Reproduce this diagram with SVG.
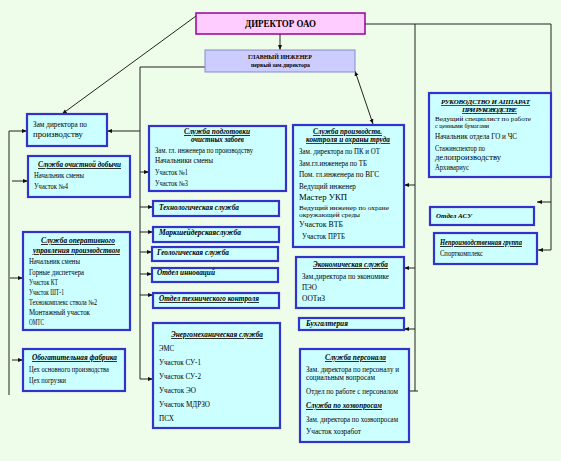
<svg xmlns="http://www.w3.org/2000/svg" width="561" height="461" viewBox="0 0 561 461">
<defs>
<marker id="a" viewBox="0 0 10 10" refX="10" refY="5" markerWidth="5" markerHeight="5" orient="auto-start-reverse" markerUnits="userSpaceOnUse"><path d="M0,1 L10,5 L0,9 z" fill="#111"/></marker>
<style>
text{font-family:"Liberation Serif","Times New Roman",serif;fill:#000}
.b{fill:#CCFFFF;stroke:#3333CC;stroke-width:2.2}
.it{font-size:7.5px}
.t{font-size:8px;font-weight:bold;font-style:italic;text-decoration:underline}
.s{font-size:8px;font-weight:bold;font-style:italic}
.c{text-anchor:middle}
.ln{fill:none;stroke:#222;stroke-width:1}
.ar{fill:none;stroke:#222;stroke-width:1;marker-end:url(#a)}
</style>
</defs>
<rect x="0" y="0" width="561" height="461" fill="#EEFDEA"/>

<g id="connectors">
<line class="ar" x1="280" y1="34" x2="280" y2="50"/>
<line class="ar" x1="196" y1="16" x2="62" y2="114"/>
<polyline class="ar" points="365,24 551,24 551,250 538,250"/>
<line class="ar" x1="551" y1="136" x2="542" y2="136"/>
<line class="ar" x1="551" y1="202" x2="537" y2="202"/>
<line class="ln" x1="415" y1="24" x2="415" y2="391"/>
<line class="ar" x1="415" y1="185" x2="404" y2="185"/>
<line class="ar" x1="415" y1="268" x2="404" y2="268"/>
<line class="ar" x1="415" y1="329" x2="404" y2="329"/>
<line class="ar" x1="418" y1="391" x2="405" y2="391"/>
<polyline class="ar" points="205,67 140,67 140,379 153,379"/>
<line class="ar" x1="140" y1="131" x2="107" y2="131"/>
<line class="ar" x1="140" y1="172" x2="149" y2="172"/>
<line class="ar" x1="140" y1="207" x2="153" y2="207"/>
<line class="ar" x1="140" y1="232" x2="153" y2="232"/>
<line class="ar" x1="140" y1="252" x2="152" y2="252"/>
<line class="ar" x1="140" y1="274" x2="152" y2="274"/>
<line class="ar" x1="140" y1="295" x2="153" y2="295"/>
<line class="ar" x1="355" y1="71" x2="373" y2="124" style="marker-start:url(#a)"/>
<line class="ln" x1="9" y1="131" x2="9" y2="395"/>
<line class="ar" x1="9" y1="131" x2="27" y2="131"/>
<line class="ar" x1="12" y1="181" x2="28" y2="181"/>
<line class="ar" x1="10" y1="278" x2="23" y2="278"/>
<line class="ar" x1="12" y1="360" x2="23" y2="360"/>
</g>

<g id="director">
<rect x="196" y="13" width="169" height="21" fill="#FFCCFF" stroke="#990099" stroke-width="1.5"/>
<text x="245" y="27" style="font-size:10px;font-weight:bold" textLength="71" lengthAdjust="spacingAndGlyphs">ДИРЕКТОР  ОАО</text>
</g>

<g id="chief">
<rect x="205" y="50" width="150" height="22" fill="#CCCCFF" stroke="#8888CC" stroke-width="1"/>
<text x="248" y="59" style="font-size:6.5px;font-weight:bold" textLength="64" lengthAdjust="spacingAndGlyphs">ГЛАВНЫЙ ИНЖЕНЕР</text>
<text x="251" y="67" style="font-size:6px;font-weight:bold" textLength="59" lengthAdjust="spacingAndGlyphs">первый зам.директора</text>
</g>

<g id="zam">
<rect class="b" x="27" y="114" width="80" height="32"/>
<text class="it" x="33" y="127" textLength="54" lengthAdjust="spacingAndGlyphs">Зам директора по</text>
<text class="it" x="33" y="137" textLength="50" lengthAdjust="spacingAndGlyphs">производству</text>
</g>

<g id="ochist">
<rect class="b" x="28" y="156" width="102" height="41"/>
<text class="t" x="38" y="167" textLength="83" lengthAdjust="spacingAndGlyphs">Служба очистной добычи</text>
<text class="it" x="34" y="178" textLength="50" lengthAdjust="spacingAndGlyphs">Начальник  смены</text>
<text class="it" x="34" y="189" textLength="34" lengthAdjust="spacingAndGlyphs">Участок №4</text>
</g>

<g id="operat">
<rect class="b" x="23" y="232" width="107" height="98"/>
<text class="t" x="41" y="243" textLength="74" lengthAdjust="spacingAndGlyphs">Служба оперативного</text>
<text class="t" x="33" y="253" textLength="87" lengthAdjust="spacingAndGlyphs">управления производством</text>
<text class="it" x="29" y="264" textLength="51" lengthAdjust="spacingAndGlyphs">Начальник  смены</text>
<text class="it" x="29" y="275" textLength="55" lengthAdjust="spacingAndGlyphs">Горные диспетчера</text>
<text class="it" x="29" y="285" textLength="29" lengthAdjust="spacingAndGlyphs">Участок КТ</text>
<text class="it" x="29" y="295" textLength="35" lengthAdjust="spacingAndGlyphs">Участок ШТ-1</text>
<text class="it" x="29" y="305" textLength="68" lengthAdjust="spacingAndGlyphs">Технокомплекс ствола №2</text>
<text class="it" x="29" y="315" textLength="61" lengthAdjust="spacingAndGlyphs">Монтажный участок</text>
<text class="it" x="29" y="325" textLength="15" lengthAdjust="spacingAndGlyphs">ОМТС</text>
</g>

<g id="obogat">
<rect class="b" x="23" y="349" width="102" height="42"/>
<text class="t" x="32" y="360" textLength="85" lengthAdjust="spacingAndGlyphs">Обогатительная фабрика</text>
<text class="it" x="29" y="372" textLength="80" lengthAdjust="spacingAndGlyphs">Цех основного производства</text>
<text class="it" x="29" y="383" textLength="37" lengthAdjust="spacingAndGlyphs">Цех погрузки</text>
</g>

<g id="podgot">
<rect class="b" x="149" y="126" width="137" height="65"/>
<text class="t" x="184" y="134" textLength="66" lengthAdjust="spacingAndGlyphs">Служба подготовки</text>
<text class="s" x="191" y="142" textLength="53" lengthAdjust="spacingAndGlyphs">очистных забоев</text>
<text class="it" x="155" y="153" textLength="98" lengthAdjust="spacingAndGlyphs">Зам. гл. инженера по производству</text>
<text class="it" x="155" y="163" textLength="58" lengthAdjust="spacingAndGlyphs">Начальники смены</text>
<text class="it" x="155" y="175" textLength="33" lengthAdjust="spacingAndGlyphs">Участок №1</text>
<text class="it" x="155" y="186" textLength="33" lengthAdjust="spacingAndGlyphs">Участок №3</text>
</g>

<g id="tehnol">
<rect class="b" x="153" y="201" width="126" height="15"/>
<text class="s" x="159" y="210" textLength="80" lengthAdjust="spacingAndGlyphs">Технологическая служба</text>
</g>
<g id="marksh">
<rect class="b" x="153" y="227" width="126" height="15"/>
<text class="s" x="159" y="235" textLength="82" lengthAdjust="spacingAndGlyphs">Маркшейдерскаяслужба</text>
</g>
<g id="geol">
<rect class="b" x="152" y="247" width="126" height="14"/>
<text class="s" x="157" y="255" textLength="72" lengthAdjust="spacingAndGlyphs">Геологическая служба</text>
</g>
<g id="innov">
<rect class="b" x="152" y="268" width="126" height="14"/>
<text class="s" x="157" y="275" textLength="58" lengthAdjust="spacingAndGlyphs">Отдел инноваций</text>
</g>
<g id="otk">
<rect class="b" x="153" y="293" width="126" height="15"/>
<text class="t" x="159" y="301" textLength="100" lengthAdjust="spacingAndGlyphs">Отдел технического контроля</text>
</g>

<g id="energo">
<rect class="b" x="153" y="323" width="127" height="105"/>
<text class="t" x="171" y="337" textLength="92" lengthAdjust="spacingAndGlyphs">Энергомеханическая служба</text>
<text class="it" x="159" y="351" textLength="15" lengthAdjust="spacingAndGlyphs">ЭМС</text>
<text class="it" x="159" y="365" textLength="42" lengthAdjust="spacingAndGlyphs">Участок СУ-1</text>
<text class="it" x="159" y="379" textLength="42" lengthAdjust="spacingAndGlyphs">Участок СУ-2</text>
<text class="it" x="159" y="393" textLength="37" lengthAdjust="spacingAndGlyphs">Участок ЭО</text>
<text class="it" x="159" y="407" textLength="51" lengthAdjust="spacingAndGlyphs">Участок МДРЗО</text>
<text class="it" x="159" y="421" textLength="15" lengthAdjust="spacingAndGlyphs">ПСХ</text>
</g>

<g id="prkontrol">
<rect class="b" x="293" y="125" width="111" height="122"/>
<text class="t" x="313" y="134" style="font-size:7.5px" textLength="69" lengthAdjust="spacingAndGlyphs">Служба производств.</text>
<text class="t" x="306" y="142" style="font-size:7.5px" textLength="84" lengthAdjust="spacingAndGlyphs">контроля и охраны труда</text>
<text class="it" x="299" y="154" textLength="81" lengthAdjust="spacingAndGlyphs">Зам. директора  по ПК и ОТ</text>
<text class="it" x="299" y="166" textLength="68" lengthAdjust="spacingAndGlyphs">Зам.гл.инженера по ТБ</text>
<text class="it" x="299" y="177" textLength="80" lengthAdjust="spacingAndGlyphs">Пом. гл.инженера  по ВГС</text>
<text class="it" x="299" y="189" textLength="57" lengthAdjust="spacingAndGlyphs">Ведущий инженер</text>
<text class="it" x="299" y="200" textLength="48" lengthAdjust="spacingAndGlyphs">Мастер  УКП</text>
<text class="it" x="299" y="210" style="font-size:7px" textLength="90" lengthAdjust="spacingAndGlyphs">Ведущий инженер  по  охране</text>
<text class="it" x="299" y="217" style="font-size:7px" textLength="61" lengthAdjust="spacingAndGlyphs">окружающей среды</text>
<text class="it" x="299" y="227" textLength="44" lengthAdjust="spacingAndGlyphs">Участок ВТБ</text>
<text class="it" x="302" y="239" textLength="43" lengthAdjust="spacingAndGlyphs">Участок ПРТБ</text>
</g>

<g id="econ">
<rect class="b" x="296" y="257" width="108" height="51"/>
<text class="t" x="313" y="267" textLength="75" lengthAdjust="spacingAndGlyphs">Экономическая служба</text>
<text class="it" x="302" y="279" textLength="87" lengthAdjust="spacingAndGlyphs">Зам.директора по экономике</text>
<text class="it" x="302" y="290" textLength="15" lengthAdjust="spacingAndGlyphs">ПЭО</text>
<text class="it" x="302" y="301" textLength="23" lengthAdjust="spacingAndGlyphs">ООТиЗ</text>
</g>

<g id="buh">
<rect class="b" x="299" y="318" width="105" height="12"/>
<text class="s" x="306" y="326" textLength="42" lengthAdjust="spacingAndGlyphs">Бухгалтерия</text>
</g>

<g id="personal">
<rect class="b" x="300" y="349" width="109" height="93"/>
<text class="t" x="325" y="360" textLength="61" lengthAdjust="spacingAndGlyphs">Служба персонала</text>
<text class="it" x="306" y="372" textLength="93" lengthAdjust="spacingAndGlyphs">Зам. директора  по персоналу и</text>
<text class="it" x="306" y="380" textLength="69" lengthAdjust="spacingAndGlyphs">социальным вопросам</text>
<text class="it" x="306" y="394" textLength="92" lengthAdjust="spacingAndGlyphs">Отдел по работе с персоналом</text>
<text class="t" x="306" y="408" style="font-size:8.5px" textLength="76" lengthAdjust="spacingAndGlyphs">Служба по хозвопросам</text>
<text class="it" x="306" y="422" textLength="92" lengthAdjust="spacingAndGlyphs">Зам. директора по хозвопросам</text>
<text class="it" x="306" y="434" textLength="55" lengthAdjust="spacingAndGlyphs">Участок хозработ</text>
</g>

<g id="ruk">
<rect class="b" x="429" y="93" width="122" height="84"/>
<text class="t" x="441" y="104" style="font-size:7px" textLength="89" lengthAdjust="spacing">РУКОВОДСТВО И АППАРАТ</text>
<text class="t" x="462" y="112" style="font-size:7px" textLength="55" lengthAdjust="spacing">ПРИ РУКОВОДСТВЕ</text>
<text class="it" x="435" y="121" style="font-size:7px" textLength="96" lengthAdjust="spacingAndGlyphs">Ведущий специалист  по работе</text>
<text class="it" x="435" y="128" style="font-size:7px" textLength="54" lengthAdjust="spacingAndGlyphs">с ценными бумагами</text>
<text class="it" x="435" y="139" textLength="82" lengthAdjust="spacingAndGlyphs">Начальник отдела ГО и ЧС</text>
<text class="it" x="435" y="151" textLength="50" lengthAdjust="spacingAndGlyphs">Стажинспектор по</text>
<text class="it" x="435" y="160" textLength="66" lengthAdjust="spacingAndGlyphs">делопроизводству</text>
<text class="it" x="435" y="170" textLength="34" lengthAdjust="spacingAndGlyphs">Архивариус</text>
</g>

<g id="asu">
<rect class="b" x="430" y="207" width="104" height="18"/>
<text class="s" x="436" y="218" style="font-size:7px" textLength="36" lengthAdjust="spacingAndGlyphs">Отдел АСУ</text>
</g>

<g id="neproiz">
<rect class="b" x="434" y="233" width="103" height="31"/>
<text class="t" x="440" y="245" textLength="82" lengthAdjust="spacingAndGlyphs">Непроизводственная группа</text>
<text class="it" x="440" y="256" textLength="43" lengthAdjust="spacingAndGlyphs">Спорткомплекс</text>
</g>
</svg>
